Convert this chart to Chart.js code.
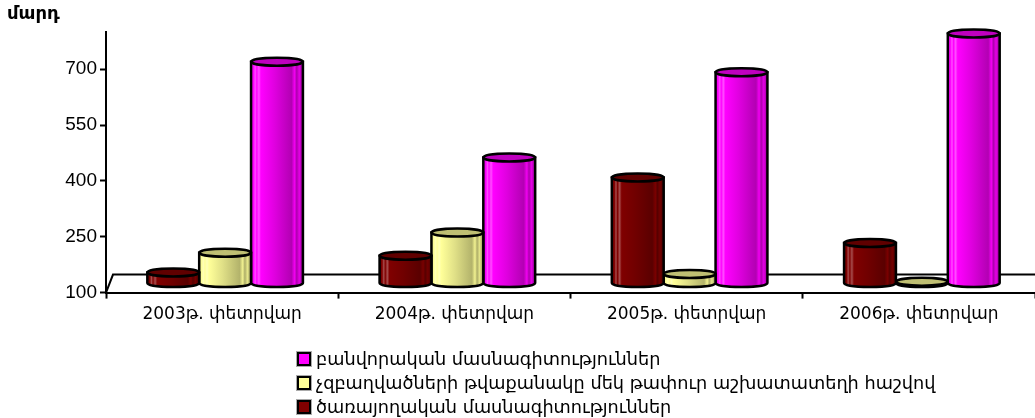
<!DOCTYPE html>
<html>
<head>
<meta charset="utf-8">
<script src="https://cdn.jsdelivr.net/npm/chart.js@4"></script>
<style>
  html, body { margin: 0; background: #fff; overflow: hidden; }
  #wrap { position: relative; width: 1035px; height: 418px; }
  #legend { position: absolute; left: 297px; top: 347px; font: 17.7px "DejaVu Sans", sans-serif; color: #000; }
  #legend div { height: 24px; line-height: 24px; white-space: nowrap; }
  #legend i { display: inline-block; width: 10px; height: 10px; border: 2px solid #000; box-shadow: 0 0 0 1px #aaa; margin-right: 5px; vertical-align: -1px; }
</style>
</head>
<body>
<div id="wrap">
  <canvas id="chart" width="1035" height="418"></canvas>
  <div id="legend"></div>
</div>
<script>
const categories = ['2003թ. փետրվար', '2004թ. փետրվար', '2005թ. փետրվար', '2006թ. փետրվար'];
const serviceValues = [130, 175, 385, 209];
const unemployedValues = [183, 237, 126, 105];
const workerValues = [696, 439, 668, 772];
const yTicks = [100, 250, 400, 550, 700];
const legendOrder = [2, 1, 0];

const DEPTH = 18;
const FLOOR_SHIFT = 7;
const BAR_LIFT = 9;
const BAR_SHIFT = 3;
const RY = 4;

// shade a hex colour: under 1 darkens, over 1 goes toward white
function shade(hex, f) {
    const n = parseInt(hex.slice(1), 16);
    const c = [n >> 16, (n >> 8) & 255, n & 255].map(v => Math.min(255, Math.round(f < 1 ? v * f : v + (255 - v) * (f - 1))));
    return 'rgb(' + c.join(',') + ')';
}

const cylinders = {
    id: 'cylinders',
    beforeDatasetsDraw(chart) {
        const { ctx, chartArea, scales } = chart;
        const y0 = scales.y.getPixelForValue(yTicks[0]);
        ctx.save();
        ctx.strokeStyle = '#000';
        ctx.lineWidth = 2;
        ctx.beginPath();
        ctx.moveTo(chartArea.left, y0);
        ctx.lineTo(chartArea.left + FLOOR_SHIFT, y0 - DEPTH);
        ctx.lineTo(chartArea.right, y0 - DEPTH);
        ctx.stroke();
        ctx.restore();
    },
    beforeDatasetDraw(chart, args) {
        const { ctx } = chart;
        const color = chart.data.datasets[args.index].backgroundColor;
        args.meta.data.forEach(bar => {
            const w = bar.width;
            const l = bar.x + BAR_SHIFT - w / 2;
            const r = l + w;
            const cx = l + w / 2;
            const top = bar.y - BAR_LIFT;
            const bottom = bar.base - BAR_LIFT;

            const g = ctx.createLinearGradient(l, 0, r, 0);
            g.addColorStop(0, shade(color, 0.9));
            g.addColorStop(0.05, color);
            g.addColorStop(0.08, shade(color, 1.3));
            g.addColorStop(0.11, color);
            g.addColorStop(0.15, shade(color, 1.3));
            g.addColorStop(0.19, color);
            g.addColorStop(0.45, shade(color, 0.88));
            g.addColorStop(0.78, shade(color, 0.7));
            g.addColorStop(0.84, shade(color, 0.95));
            g.addColorStop(0.88, shade(color, 0.68));
            g.addColorStop(0.93, shade(color, 0.9));
            g.addColorStop(1, shade(color, 0.55));

            ctx.save();
            ctx.lineWidth = 2.5;
            ctx.strokeStyle = '#000';
            ctx.fillStyle = g;
            ctx.beginPath();
            ctx.moveTo(l, top);
            ctx.lineTo(l, bottom);
            ctx.ellipse(cx, bottom, w / 2, RY, 0, Math.PI, 0, true);
            ctx.lineTo(r, top);
            ctx.closePath();
            ctx.fill();
            ctx.stroke();
            ctx.fillStyle = shade(color, 0.75);
            ctx.beginPath();
            ctx.ellipse(cx, top, w / 2, RY, 0, 0, Math.PI * 2);
            ctx.fill();
            ctx.stroke();
            ctx.restore();
        });
        return false;
    }
};

const datasets = [
    { label: 'ծառայողական մասնագիտություններ', data: serviceValues, backgroundColor: '#800000' },
    { label: 'չզբաղվածների թվաքանակը մեկ թափուր աշխատատեղի հաշվով', data: unemployedValues, backgroundColor: '#ffff99' },
    { label: 'բանվորական մասնագիտություններ', data: workerValues, backgroundColor: '#ff00ff' }
];

const chart = new Chart(document.getElementById('chart'), {
    type: 'bar',
    data: { labels: categories, datasets: datasets },
    plugins: [cylinders],
    options: {
        responsive: false,
        animation: false,
        datasets: { bar: { categoryPercentage: 0.67, barPercentage: 1, base: yTicks[0] } },
        layout: { padding: { left: 7, bottom: 87 } },
        plugins: {
            legend: { display: false },
            tooltip: { enabled: false },
            title: {
                display: true,
                text: 'մարդ',
                align: 'start',
                color: '#000',
                font: { family: '"DejaVu Sans", sans-serif', size: 18, weight: 'bold' },
                padding: { top: 4, bottom: 6.4 }
            }
        },
        scales: {
            x: {
                grid: { drawOnChartArea: false, tickLength: 6, tickColor: '#000', tickWidth: 2 },
                border: { color: '#000', width: 2 },
                ticks: { color: '#000', padding: 6, maxRotation: 0, font: { family: '"DejaVu Sans", sans-serif', size: 17 } }
            },
            y: {
                min: yTicks[0],
                max: 800,
                afterFit(scale) { scale.width = 99; },
                afterBuildTicks(scale) { scale.ticks = yTicks.map(v => ({ value: v })); },
                grid: { drawOnChartArea: false, tickLength: 6, tickColor: '#000', tickWidth: 2 },
                border: { color: '#000', width: 2 },
                ticks: { color: '#000', padding: 3, font: { family: '"Liberation Sans", sans-serif', size: 19 } }
            }
        }
    }
});

document.getElementById('legend').innerHTML = legendOrder.map(i =>
    '<div><i style="background:' + datasets[i].backgroundColor + '"></i>' + datasets[i].label + '</div>'
).join('');
</script>
</body>
</html>
